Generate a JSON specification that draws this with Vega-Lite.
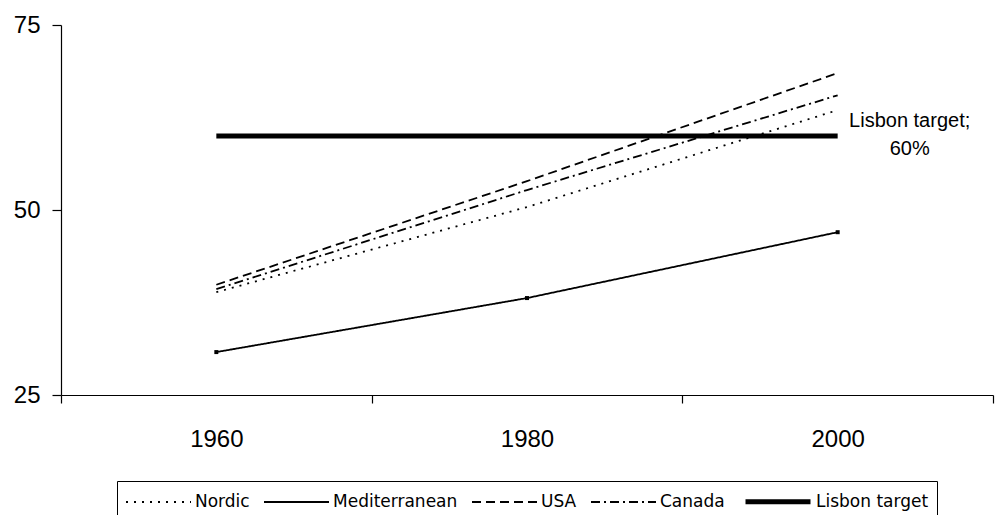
{
  "$schema": "https://vega.github.io/schema/vega-lite/v6.json",
  "width": 932,
  "height": 370,
  "autosize": "none",
  "padding": {"left": 61, "top": 25, "right": 13, "bottom": 120},
  "background": "white",
  "config": {
    "view": {"stroke": null},
    "font": "Liberation Sans",
    "axis": {
      "domainColor": "black",
      "tickColor": "black",
      "labelColor": "black",
      "grid": false,
      "labelFont": "Liberation Sans",
      "domainWidth": 1.2,
      "tickWidth": 1.2,
      "title": null
    },
    "legend": {
      "symbolStrokeColor": "black",
      "labelColor": "black",
      "labelFont": "DejaVu Sans",
      "labelFontSize": 17
    }
  },
  "data": {
    "values": [
      {"series": "Nordic", "year": 1960, "value": 38.9},
      {"series": "Nordic", "year": 1980, "value": 50.4},
      {"series": "Nordic", "year": 2000, "value": 63.5},
      {"series": "Mediterranean", "year": 1960, "value": 30.8},
      {"series": "Mediterranean", "year": 1980, "value": 38.1},
      {"series": "Mediterranean", "year": 2000, "value": 47},
      {"series": "USA", "year": 1960, "value": 39.9},
      {"series": "USA", "year": 1980, "value": 53.9},
      {"series": "USA", "year": 2000, "value": 68.5},
      {"series": "Canada", "year": 1960, "value": 39.3},
      {"series": "Canada", "year": 1980, "value": 52.7},
      {"series": "Canada", "year": 2000, "value": 65.5},
      {"series": "Lisbon target", "year": 1960, "value": 60},
      {"series": "Lisbon target", "year": 1980, "value": 60},
      {"series": "Lisbon target", "year": 2000, "value": 60}
    ]
  },
  "layer": [
    {
      "mark": {"type": "line", "color": "black"},
      "encoding": {
        "x": {
          "field": "year", "type": "quantitative",
          "scale": {"domain": [1950, 2010], "nice": false, "zero": false},
          "axis": {
            "values": [1950, 1960, 1970, 1980, 1990, 2000, 2010],
            "format": "d",
            "labelExpr": "datum.value % 20 == 0 ? datum.label : ''",
            "tickSize": 8,
            "labelPadding": 24,
            "labelFontSize": 24,
            "tickOpacity": {"condition": {"test": "datum.value % 20 == 0", "value": 0}, "value": 1}
          }
        },
        "y": {
          "field": "value", "type": "quantitative",
          "scale": {"domain": [25, 75], "nice": false, "zero": false},
          "axis": {
            "values": [25, 50, 75],
            "tickSize": 9,
            "labelPadding": 12,
            "labelFontSize": 24
          }
        },
        "strokeDash": {
          "field": "series", "type": "nominal",
          "scale": {
            "domain": ["Nordic", "Mediterranean", "USA", "Canada", "Lisbon target"],
            "range": [[2, 6], [1, 0], [9, 5], [9, 4, 2, 4], [1, 0]]
          },
          "legend": {
            "title": null,
            "orient": "none",
            "legendX": 56,
            "legendY": 456,
            "direction": "horizontal",
            "strokeColor": "black",
            "padding": 8,
            "symbolType": "M-1,0H5.5",
            "symbolSize": 400,
            "labelOffset": 48,
            "columnPadding": 10
          }
        },
        "strokeWidth": {
          "field": "series", "type": "nominal",
          "scale": {
            "type": "ordinal",
            "domain": ["Nordic", "Mediterranean", "USA", "Canada", "Lisbon target"],
            "range": [1.8, 1.8, 1.8, 1.8, 5]
          },
          "legend": {
            "title": null,
            "orient": "none",
            "legendX": 56,
            "legendY": 456,
            "direction": "horizontal",
            "strokeColor": "black",
            "padding": 8,
            "symbolType": "M-1,0H5.5",
            "symbolSize": 400,
            "labelOffset": 48,
            "columnPadding": 10
          }
        }
      }
    },
    {
      "transform": [{"filter": "datum.series == 'Mediterranean'"}],
      "mark": {"type": "point", "shape": "square", "filled": true, "color": "black", "size": 16, "opacity": 1},
      "encoding": {
        "x": {"field": "year", "type": "quantitative"},
        "y": {"field": "value", "type": "quantitative"}
      }
    },
    {
      "transform": [{"filter": "datum.series == 'Lisbon target' && datum.year == 2000"}],
      "mark": {"type": "text", "align": "center", "baseline": "middle", "dx": 72, "dy": -15, "fontSize": 20, "lineHeight": 28, "color": "black", "font": "Liberation Sans"},
      "encoding": {
        "x": {"field": "year", "type": "quantitative"},
        "y": {"field": "value", "type": "quantitative"},
        "text": {"value": ["Lisbon target;", "60%"]}
      }
    }
  ]
}
